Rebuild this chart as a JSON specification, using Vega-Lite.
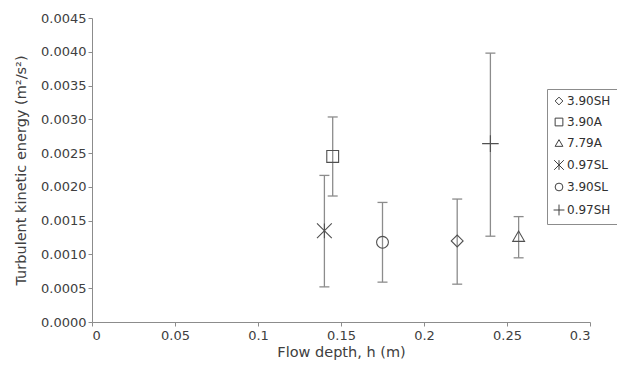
{
  "$schema": "https://vega.github.io/schema/vega-lite/v6.json",
  "width": 498,
  "height": 304,
  "autosize": {"type": "none"},
  "padding": {"left": 92, "top": 18, "right": 27, "bottom": 52},
  "background": "white",
  "config": {
    "font": "DejaVu Sans",
    "view": {"stroke": null},
    "axis": {
      "grid": false,
      "domainColor": "#8c8c8c",
      "tickColor": "#8c8c8c",
      "tickSize": 4,
      "labelColor": "#404040",
      "titleColor": "#404040",
      "labelFontSize": 13,
      "titleFontSize": 14.5,
      "titleFontWeight": "normal",
      "labelOverlap": false
    }
  },
  "data": {
    "values": [
      {"series": "3.90SH", "h": 0.22, "k": 0.0012, "lo": 0.00056, "hi": 0.00182},
      {"series": "3.90A", "h": 0.145, "k": 0.00245, "lo": 0.001865, "hi": 0.003035},
      {"series": "7.79A", "h": 0.257, "k": 0.00127, "lo": 0.00095, "hi": 0.00156},
      {"series": "0.97SL", "h": 0.14, "k": 0.00135, "lo": 0.00052, "hi": 0.00217},
      {"series": "3.90SL", "h": 0.175, "k": 0.00118, "lo": 0.00059, "hi": 0.00177},
      {"series": "0.97SH", "h": 0.24, "k": 0.00264, "lo": 0.00127, "hi": 0.00398}
    ]
  },
  "encoding": {
    "x": {
      "field": "h",
      "type": "quantitative",
      "scale": {"domain": [0, 0.3], "nice": false},
      "axis": {"values": [0, 0.05, 0.1, 0.15, 0.2, 0.25, 0.3], "format": "~g", "title": "Flow depth, h (m)", "labelPadding": 3, "titlePadding": 3}
    }
  },
  "layer": [
    {
      "mark": {"type": "rule", "color": "#8c8c8c", "strokeWidth": 1.3},
      "encoding": {
        "y": {
          "field": "lo",
          "type": "quantitative",
          "scale": {"domain": [0, 0.0045], "nice": false},
          "axis": {
            "values": [0, 0.0005, 0.001, 0.0015, 0.002, 0.0025, 0.003, 0.0035, 0.004, 0.0045],
            "format": ".4f",
            "title": "Turbulent kinetic energy (m²/s²)",
            "titlePadding": 12,
            "labelOverlap": false
          }
        },
        "y2": {"field": "hi"}
      }
    },
    {
      "mark": {"type": "tick", "orient": "horizontal", "size": 10, "thickness": 1.3, "color": "#8c8c8c", "opacity": 1},
      "encoding": {"y": {"field": "lo", "type": "quantitative", "axis": {
            "values": [0, 0.0005, 0.001, 0.0015, 0.002, 0.0025, 0.003, 0.0035, 0.004, 0.0045],
            "format": ".4f",
            "title": "Turbulent kinetic energy (m²/s²)",
            "titlePadding": 12,
            "labelOverlap": false
          }}}
    },
    {
      "mark": {"type": "tick", "orient": "horizontal", "size": 10, "thickness": 1.3, "color": "#8c8c8c", "opacity": 1},
      "encoding": {"y": {"field": "hi", "type": "quantitative", "axis": {
            "values": [0, 0.0005, 0.001, 0.0015, 0.002, 0.0025, 0.003, 0.0035, 0.004, 0.0045],
            "format": ".4f",
            "title": "Turbulent kinetic energy (m²/s²)",
            "titlePadding": 12,
            "labelOverlap": false
          }}}
    },
    {
      "mark": {"type": "point", "filled": false, "size": 140, "strokeWidth": 1.1, "color": "#505050", "opacity": 1},
      "encoding": {
        "y": {"field": "k", "type": "quantitative", "axis": {
            "values": [0, 0.0005, 0.001, 0.0015, 0.002, 0.0025, 0.003, 0.0035, 0.004, 0.0045],
            "format": ".4f",
            "title": "Turbulent kinetic energy (m²/s²)",
            "titlePadding": 12,
            "labelOverlap": false
          }},
        "shape": {
          "field": "series",
          "type": "nominal",
          "scale": {
            "domain": ["3.90SH", "3.90A", "7.79A", "0.97SL", "3.90SL", "0.97SH"],
            "range": ["diamond", "square", "triangle-up", "M-1.25,-1.25L1.25,1.25M-1.25,1.25L1.25,-1.25M0,-1.25L0,1.25", "circle", "M-1.4,0L1.4,0M0,-1.4L0,1.4"]
          },
          "legend": {
            "title": null,
            "orient": "none",
            "legendX": 455,
            "legendY": 71,
            "strokeColor": "#8c8c8c",
            "fillColor": "white",
            "padding": 6,
            "labelFontSize": 12,
            "labelColor": "#303030",
            "labelOffset": 2,
            "symbolSize": 60,
            "symbolStrokeColor": "#404040",
            "symbolStrokeWidth": 1,
            "rowPadding": 9
          }
        }
      }
    }
  ]
}
